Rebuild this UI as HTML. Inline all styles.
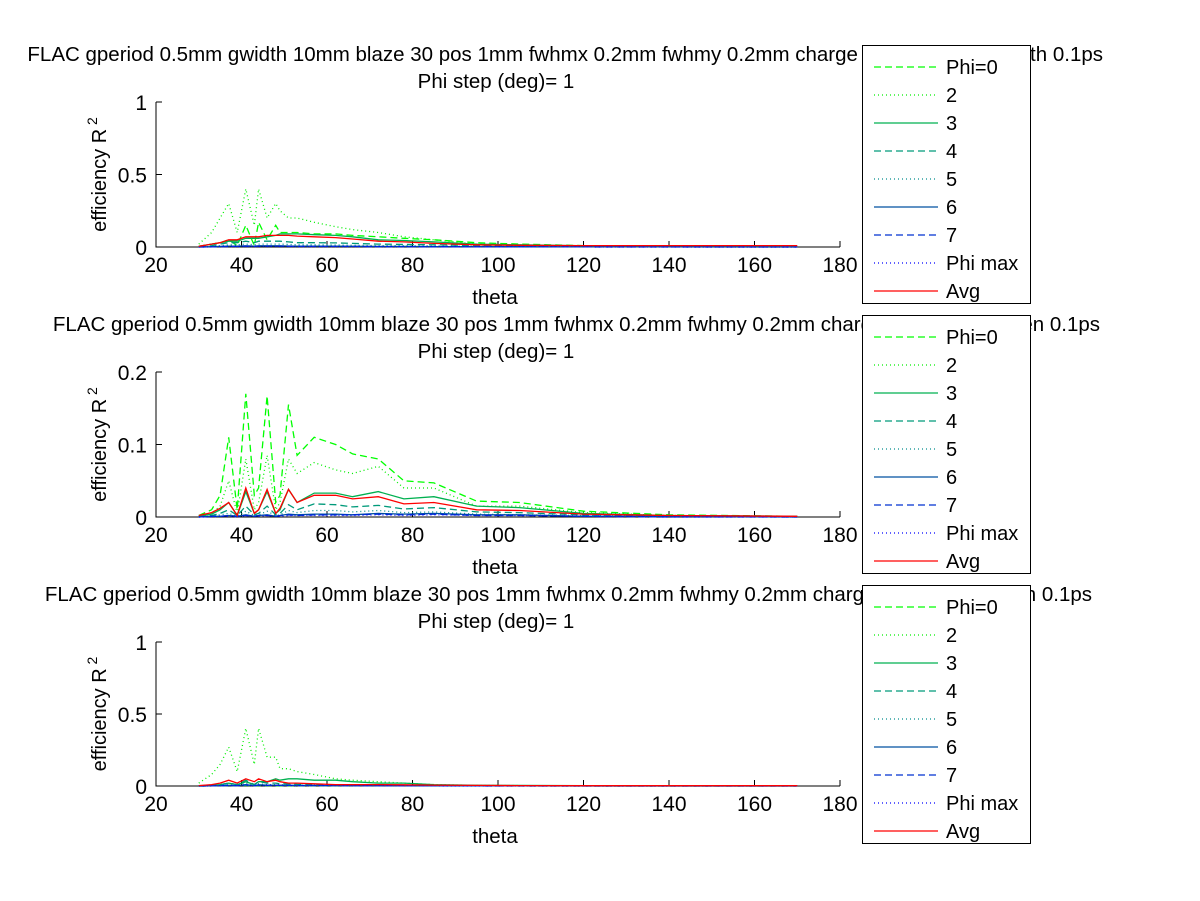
<!DOCTYPE html>
<html><head><meta charset="utf-8"><style>
body{margin:0;background:#fff;}
svg{display:block;font-family:"Liberation Sans",sans-serif;}
</style></head><body>
<svg id="fig" width="1200" height="901" viewBox="0 0 1200 901" xmlns="http://www.w3.org/2000/svg">
<rect x="0" y="0" width="1200" height="901" fill="#fff"/>
</svg>
<script>
const thetaGrid = [30,33,35,37,39,41,43,44,46,48,49,51,53,57,62,66,72,78,85,95,105,120,140,170];
const xTicks = [20,40,60,80,100,120,140,160,180];
const seriesNames = ["Phi=0","2","3","4","5","6","7","Phi max","Avg"];
// Plot 1
const p1_phi0 = [0.005,0.02,0.03,0.05,0.01,0.15,0.01,0.17,0.05,0.15,0.1,0.1,0.1,0.09,0.09,0.08,0.07,0.06,0.05,0.03,0.02,0.01,0.003,0.001];
const p1_phi2 = [0.02,0.1,0.2,0.3,0.1,0.4,0.15,0.4,0.2,0.3,0.25,0.2,0.2,0.17,0.14,0.12,0.1,0.07,0.05,0.02,0.015,0.005,0.002,0.001];
const p1_phi3 = [0.005,0.02,0.03,0.04,0.04,0.06,0.06,0.06,0.07,0.08,0.09,0.09,0.09,0.085,0.08,0.07,0.05,0.045,0.035,0.02,0.015,0.008,0.003,0.001];
const p1_phi4 = [0.002,0.01,0.02,0.03,0.03,0.04,0.03,0.04,0.04,0.04,0.04,0.035,0.03,0.03,0.028,0.025,0.02,0.018,0.015,0.01,0.008,0.004,0.002,0.001];
const p1_phi5 = [0.001,0.005,0.01,0.015,0.015,0.02,0.015,0.02,0.02,0.02,0.02,0.018,0.015,0.015,0.014,0.012,0.01,0.009,0.008,0.005,0.004,0.002,0.001,0];
const p1_phi6 = [0,0.002,0.004,0.006,0.006,0.008,0.006,0.008,0.008,0.008,0.008,0.007,0.006,0.006,0.006,0.005,0.004,0.004,0.003,0.002,0.002,0.001,0.001,0];
const p1_phi7 = [0,0.001,0.003,0.004,0.004,0.006,0.004,0.006,0.006,0.006,0.006,0.005,0.005,0.005,0.004,0.004,0.003,0.003,0.002,0.002,0.001,0.001,0,0];
const p1_max  = [0,0.001,0.002,0.003,0.003,0.004,0.003,0.004,0.004,0.004,0.004,0.004,0.003,0.003,0.003,0.003,0.002,0.002,0.002,0.001,0.001,0.001,0,0];
const p1_avg  = [0.005,0.02,0.03,0.05,0.05,0.07,0.07,0.07,0.08,0.08,0.08,0.08,0.075,0.07,0.065,0.055,0.04,0.035,0.025,0.015,0.012,0.01,0.01,0.01];
// Plot 2
const p2_phi0 = [0.002,0.01,0.03,0.11,0.01,0.17,0.03,0.04,0.167,0.02,0.03,0.155,0.085,0.11,0.1,0.087,0.08,0.05,0.047,0.022,0.02,0.008,0.003,0.001];
const p2_phi2 = [0.001,0.005,0.015,0.05,0.005,0.08,0.01,0.02,0.085,0.01,0.02,0.08,0.06,0.075,0.065,0.06,0.07,0.04,0.04,0.015,0.015,0.006,0.002,0.001];
const p2_phi3 = [0.001,0.004,0.01,0.02,0.002,0.035,0.005,0.01,0.035,0.005,0.01,0.038,0.02,0.033,0.033,0.028,0.035,0.025,0.028,0.015,0.013,0.005,0.002,0.001];
const p2_phi4 = [0.001,0.002,0.005,0.01,0.002,0.015,0.003,0.005,0.015,0.003,0.005,0.017,0.01,0.018,0.017,0.014,0.016,0.011,0.013,0.007,0.006,0.003,0.001,0.001];
const p2_phi5 = [0,0.001,0.003,0.005,0.001,0.008,0.002,0.003,0.008,0.002,0.003,0.009,0.006,0.009,0.009,0.007,0.009,0.006,0.007,0.004,0.003,0.002,0.001,0];
const p2_phi6 = [0,0.001,0.001,0.002,0.001,0.003,0.001,0.002,0.003,0.001,0.002,0.004,0.003,0.004,0.004,0.003,0.005,0.004,0.005,0.003,0.003,0.001,0.001,0];
const p2_phi7 = [0,0.001,0.001,0.002,0.001,0.002,0.001,0.002,0.002,0.001,0.002,0.003,0.002,0.003,0.003,0.003,0.004,0.003,0.004,0.002,0.002,0.001,0,0];
const p2_max  = [0,0,0.001,0.001,0,0.002,0.001,0.001,0.002,0.001,0.001,0.002,0.002,0.002,0.002,0.002,0.003,0.002,0.003,0.002,0.002,0.001,0,0];
const p2_avg  = [0.002,0.006,0.012,0.02,0.002,0.04,0.005,0.01,0.038,0.005,0.012,0.038,0.02,0.03,0.03,0.025,0.028,0.018,0.02,0.01,0.009,0.004,0.002,0.001];
// Plot 3
const p3_phi0 = [0,0.001,0.002,0.003,0.002,0.004,0.002,0.003,0.003,0.002,0.002,0.002,0.002,0.002,0.001,0.001,0.001,0.001,0.001,0.001,0.001,0.001,0.001,0.001];
const p3_phi2 = [0.02,0.08,0.15,0.27,0.1,0.4,0.15,0.4,0.2,0.2,0.12,0.12,0.1,0.08,0.05,0.04,0.03,0.02,0.01,0.005,0.003,0.002,0.001,0];
const p3_phi3 = [0.002,0.005,0.01,0.02,0.01,0.03,0.01,0.03,0.03,0.05,0.04,0.05,0.05,0.04,0.04,0.03,0.02,0.02,0.01,0.005,0.004,0.002,0.001,0.001];
const p3_phi4 = [0.001,0.004,0.01,0.02,0.01,0.04,0.01,0.03,0.02,0.02,0.015,0.015,0.012,0.01,0.008,0.006,0.005,0.004,0.003,0.002,0.001,0.001,0,0];
const p3_phi5 = [0,0.002,0.005,0.01,0.005,0.02,0.005,0.015,0.01,0.01,0.008,0.008,0.006,0.005,0.004,0.003,0.003,0.002,0.002,0.001,0.001,0,0,0];
const p3_phi6 = [0,0.001,0.003,0.005,0.003,0.01,0.003,0.008,0.006,0.006,0.005,0.005,0.004,0.004,0.003,0.003,0.002,0.002,0.001,0.001,0.001,0,0,0];
const p3_phi7 = [0,0.001,0.002,0.004,0.002,0.008,0.002,0.006,0.005,0.005,0.004,0.004,0.003,0.003,0.003,0.002,0.002,0.001,0.001,0.001,0,0,0,0];
const p3_max  = [0,0.001,0.001,0.002,0.001,0.004,0.001,0.003,0.003,0.003,0.002,0.002,0.002,0.002,0.002,0.001,0.001,0.001,0.001,0,0,0,0,0];
const p3_avg  = [0.003,0.01,0.02,0.04,0.02,0.05,0.03,0.05,0.03,0.04,0.03,0.02,0.02,0.015,0.01,0.01,0.01,0.008,0.006,0.004,0.003,0.002,0.002,0.002];

const styles = [
 {c:"#00ff00",d:"7,4",w:1.3},
 {c:"#00ee00",d:"1,3",w:1.3},
 {c:"#00b050",d:"",w:1.3},
 {c:"#009a7a",d:"7,4",w:1.3},
 {c:"#008c8c",d:"1,3",w:1.3},
 {c:"#0050a0",d:"",w:1.3},
 {c:"#0030d0",d:"7,4",w:1.3},
 {c:"#0000ff",d:"1,3",w:1.3},
 {c:"#ff0000",d:"",w:1.3}
];
const plots = [
 {top:102,bot:247,yMax:1,yTicks:[0,0.5,1],tickLbl:["0","0.5","1"],legTop:45,titleEnd:1103,
  tail:"charge 200pC bunch length 0.1ps",
  series:[p1_phi0,p1_phi2,p1_phi3,p1_phi4,p1_phi5,p1_phi6,p1_phi7,p1_max,p1_avg]},
 {top:372,bot:517,yMax:0.2,yTicks:[0,0.1,0.2],tickLbl:["0","0.1","0.2"],legTop:315,titleEnd:1100,
  tail:"charge 200pC bunch len 0.1ps",
  series:[p2_phi0,p2_phi2,p2_phi3,p2_phi4,p2_phi5,p2_phi6,p2_phi7,p2_max,p2_avg]},
 {top:642,bot:786,yMax:1,yTicks:[0,0.5,1],tickLbl:["0","0.5","1"],legTop:585,titleEnd:1092,
  tail:"charge 200pC bunch len 0.1ps",
  series:[p3_phi0,p3_phi2,p3_phi3,p3_phi4,p3_phi5,p3_phi6,p3_phi7,p3_max,p3_avg]}
];
const NS="http://www.w3.org/2000/svg";
const svg=document.getElementById("fig");
const X0=156,X1=840;
function xs(t){return X0+(t-20)/(180-20)*(X1-X0);}
function mk(tag,attrs,parent){const e=document.createElementNS(NS,tag);for(const k in attrs)e.setAttribute(k,attrs[k]);(parent||svg).appendChild(e);return e;}
plots.forEach((p,pi)=>{
  const g=mk("g",{});
  
  
  const ys=v=>p.bot-(v/p.yMax)*(p.bot-p.top);
  const t1=mk("text",{x:p.titleEnd,y:p.legTop+16,"text-anchor":"end","font-size":"20.5"},g);
  
  
  t1.textContent="FLAC gperiod 0.5mm gwidth 10mm blaze 30 pos 1mm fwhmx 0.2mm fwhmy 0.2mm "+p.tail;
  const t2=mk("text",{x:496,y:p.legTop+43,"text-anchor":"middle","font-size":"20.5"},g);
  
  
  t2.textContent="Phi step (deg)= 1";
  const ax=mk("path",{d:`M${X0},${p.top}V${p.bot}H${X1}`,stroke:"#000","stroke-width":1,fill:"none"},g);
  
  
  xTicks.forEach(v=>{
    const x=xs(v);
    const tk=mk("line",{x1:x,x2:x,y1:p.bot,y2:p.bot-6,stroke:"#000"},g);
    
    
    const tl=mk("text",{x:x,y:p.bot+25,"text-anchor":"middle","font-size":"21"},g);
    
    
    tl.textContent=v;
  });
  p.yTicks.forEach((v,i)=>{
    const y=ys(v);
    const tk=mk("line",{x1:X0,x2:X0+6,y1:y,y2:y,stroke:"#000"},g);
    
    
    const tl=mk("text",{x:X0-9,y:y+8,"text-anchor":"end","font-size":"21"},g);
    
    
    tl.textContent=p.tickLbl[i];
  });
  const xl=mk("text",{x:495,y:p.bot+57,"text-anchor":"middle","font-size":"20.5"},g);
  
  
  xl.textContent="theta";
  const yc=(p.top+p.bot)/2;
  const yl=mk("text",{x:0,y:0,transform:`translate(106,${yc}) rotate(-90)`,"text-anchor":"middle","font-size":"20"},g);
  
  
  yl.textContent="efficiency R";
  const sup=mk("tspan",{dy:"-9","font-size":"14"},yl);
  sup.textContent=" 2";
  p.series.forEach((arr,si)=>{
    const s=styles[si];
    const d=arr.map((v,i)=>(i?"L":"M")+xs(thetaGrid[i]).toFixed(1)+","+ys(v).toFixed(1)).join("");
    const path=mk("path",{d:d,fill:"none",stroke:s.c,"stroke-width":s.w,"stroke-dasharray":s.d},g);
    
    
  });
  const lg=mk("g",{},g);
  
  
  mk("rect",{x:862.5,y:p.legTop+0.5,width:168,height:258,fill:"#fff",stroke:"#000"},lg);
  seriesNames.forEach((n,si)=>{
    const s=styles[si];const y=p.legTop+22+si*28;
    const e=mk("g",{},lg);
    
    
    mk("line",{x1:874,x2:938,y1:y,y2:y,stroke:s.c,"stroke-width":1.2,"stroke-dasharray":s.d},e);
    const tx=mk("text",{x:946,y:y+7,"font-size":"20"},e);
    tx.textContent=n;
  });
});
</script>
</body></html>
